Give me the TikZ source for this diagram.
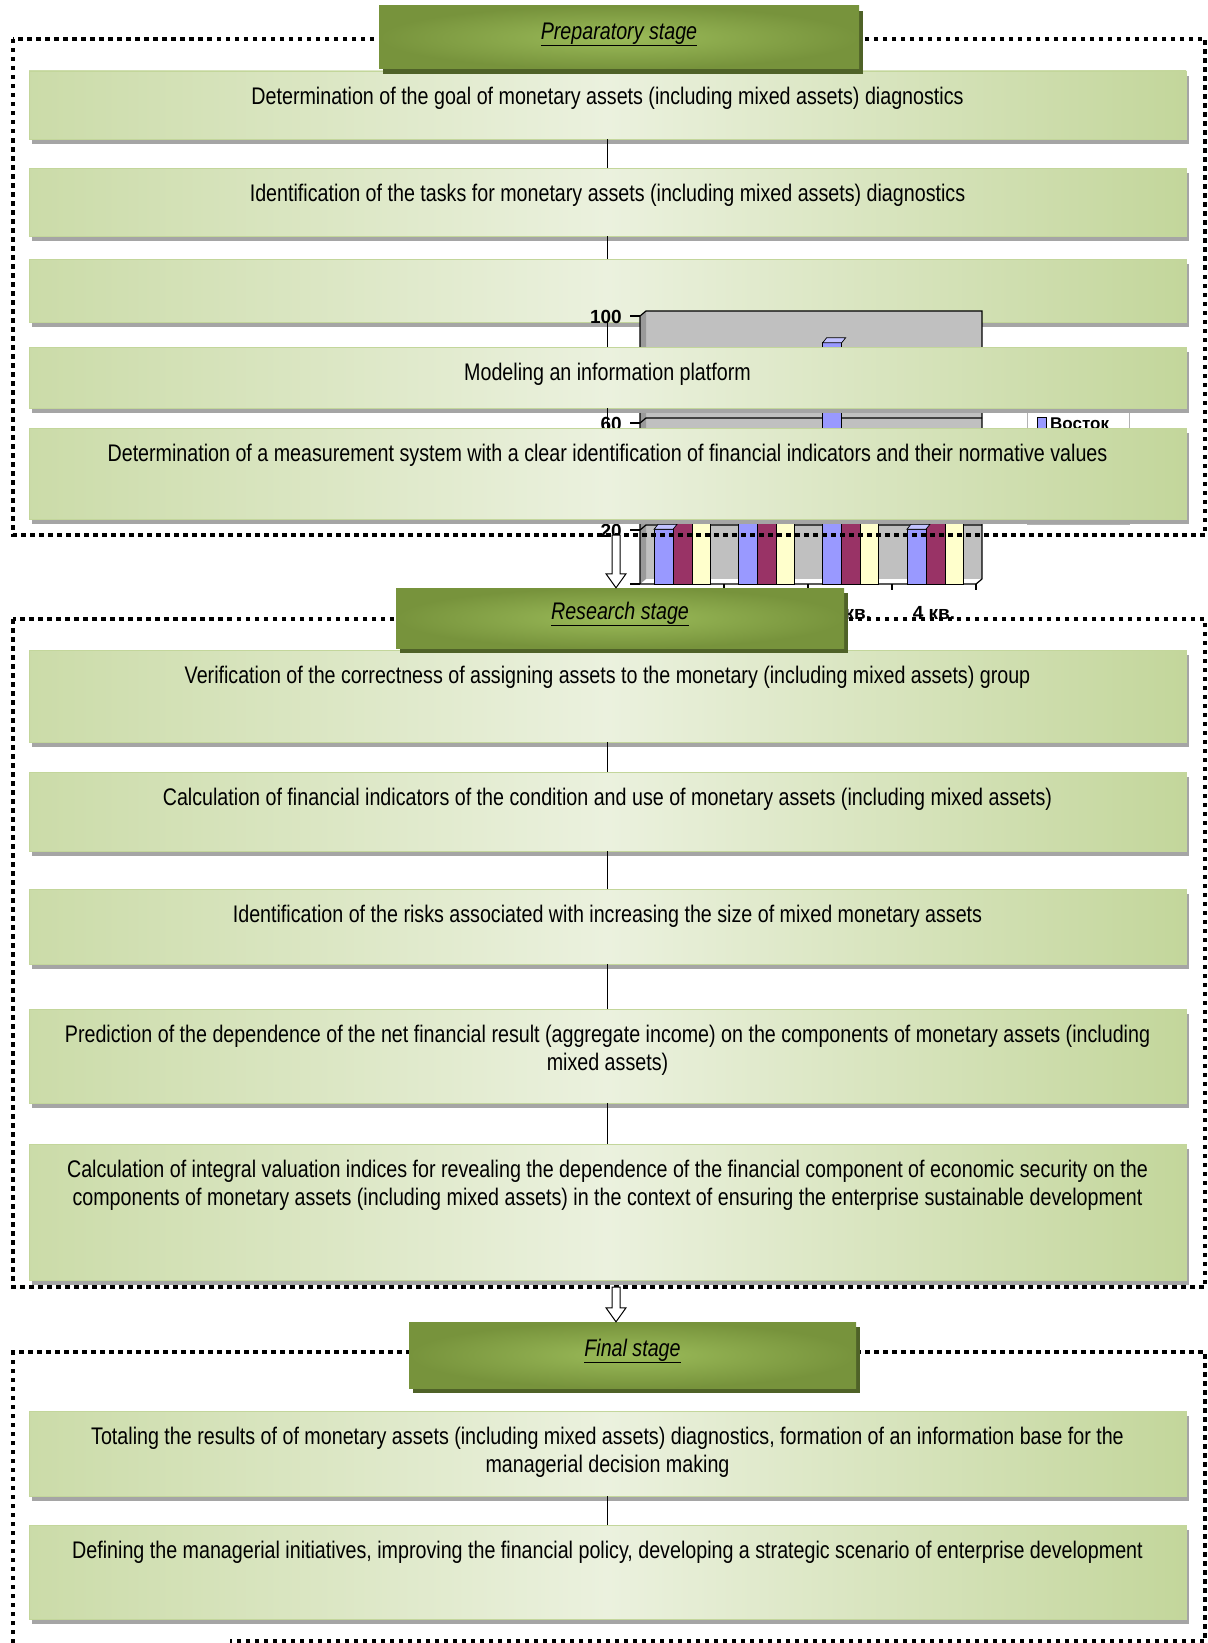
\documentclass[tikz,border=0pt]{standalone}
\usepackage{fontspec}
\setmainfont{Liberation Sans}[FakeStretch=0.82]
\newfontfamily\chartfont{Liberation Sans}
\usetikzlibrary{positioning,shadows,calc}

\definecolor{stagedark}{HTML}{77933C}
\definecolor{stagelight}{HTML}{9BBB59}
\definecolor{stageshadow}{HTML}{4F6228}
\definecolor{boxlight}{HTML}{EBF1DE}
\definecolor{boxgreen}{HTML}{C3D69B}
\definecolor{boxshadow}{HTML}{A5A5A5}
\definecolor{barblue}{HTML}{9999FF}
\definecolor{barred}{HTML}{993366}
\definecolor{baryellow}{HTML}{FFFFCC}
\definecolor{wallgray}{HTML}{C0C0C0}

\tikzset{
  stepbox/.style={rectangle, minimum width=1157pt, draw=boxgreen, line width=0.8pt,
    left color=boxgreen!80!boxlight, right color=boxgreen, middle color=boxlight,
    general shadow={fill=boxshadow, shadow xshift=3pt, shadow yshift=-5pt}},
  steptext/.style={inner sep=0pt, align=center, font=\fontsize{24}{28}\selectfont},
  stagebox/.style={rectangle, inner color=stagelight, outer color=stagedark,
    general shadow={fill=stageshadow, shadow xshift=4pt, shadow yshift=-5pt}},
  stagetext/.style={inner sep=0pt, font=\fontsize{24}{28}\selectfont\itshape},
  stageframe/.style={line width=4.5pt, dash pattern=on 4.5pt off 4.5pt},
  link/.style={line width=1.2pt},
  chartline/.style={line width=1.2pt},
  bar/.style={draw=black, line width=0.7pt},
  chartlabel/.style={inner sep=0pt, font=\chartfont\bfseries\fontsize{19}{22}\selectfont},
  hollowarrow/.style={draw=black, fill=white, line width=1pt, line join=miter,
    to path={let \p1=(\tikztostart), \p2=(\tikztotarget) in
      (\x1-4pt,\y1) -- (\x1-4pt,\y2+14pt) -- (\x1-10pt,\y2+14pt) -- (\x1,\y2)
      -- (\x1+10pt,\y2+14pt) -- (\x1+4pt,\y2+14pt) -- (\x1+4pt,\y1) -- cycle}}
}

\begin{document}
\begin{tikzpicture}[x=1pt, y=-1pt]
  \useasboundingbox (0,0) rectangle (1207,1643);
  \fill[white] (0,0) rectangle (1207,1643);

  % empty step, lies under the chart
  \node[stepbox, minimum height=63pt] (blank) at (607.5,290.5) {};

  % chart showing through behind the scheme
  \fill[wallgray] (646,311) rectangle (982,579);
  \fill[wallgray!80!black] (640,316) -- (646,311) -- (646,579) -- (640,584) -- cycle;
  \draw[chartline] (640,316) -- (646,311) -- (982,311) -- (982,579);
  \draw[chartline] (640,423) -- (646,418) -- (982,418);
  \draw[chartline] (640,530) -- (646,525) -- (982,525);
  \draw[chartline] (640,316) -- (640,584) -- (976,584) -- (982,579);
  \draw[chartline] (630,316) -- (640,316);
  \draw[chartline] (630,423) -- (640,423);
  \draw[chartline] (630,530) -- (640,530);
  \draw[chartline] (630,584) -- (640,584);
  \node[chartlabel, anchor=east] (y100) at (622,317) {100};
  \node[chartlabel, anchor=east] (y60) at (622,424) {60};
  \node[chartlabel, anchor=east] (y20) at (622,531) {20};

  % bars
  \draw[bar, fill=barblue] (654,584) rectangle (673,529.3);
  \draw[bar, fill=barred] (673,584) rectangle (692,502);
  \draw[bar, fill=baryellow] (692,584) rectangle (710,461);
  \draw[bar, fill=barblue] (738.3,584) rectangle (757.3,510.6);
  \draw[bar, fill=barred] (757.3,584) rectangle (776.3,480.6);
  \draw[bar, fill=baryellow] (776.3,584) rectangle (794.3,458.3);
  \draw[bar, fill=barblue] (822.6,584) rectangle (841.6,342.8);
  \draw[bar, fill=barred] (841.6,584) rectangle (860.6,491.3);
  \draw[bar, fill=baryellow] (860.6,584) rectangle (878.6,463.4);
  \draw[bar, fill=barblue] (906.9,584) rectangle (925.9,529.3);
  \draw[bar, fill=barred] (925.9,584) rectangle (944.9,499.3);
  \draw[bar, fill=baryellow] (944.9,584) rectangle (962.9,466.3);
  \draw[bar, fill=barblue!60!white] (654,529.3) -- (658,524.3) -- (677,524.3) -- (673,529.3) -- cycle;
  \draw[bar, fill=barblue!60!white] (822.6,342.8) -- (826.6,337.8) -- (845.6,337.8) -- (841.6,342.8) -- cycle;
  \draw[bar, fill=barblue!60!white] (906.9,529.3) -- (910.9,524.3) -- (929.9,524.3) -- (925.9,529.3) -- cycle;
  \draw[chartline] (724,584) -- (724,590);
  \draw[chartline] (808,584) -- (808,590);
  \draw[chartline] (892,584) -- (892,590);
  \draw[chartline] (976,584) -- (976,590);
  \node[chartlabel] (q3) at (850,613) {3 кв.};
  \node[chartlabel] (q4) at (934,613) {4 кв.};

  % legend
  \draw[gray!60, fill=white] (1027,406) rectangle (1129,524);
  \draw[bar, fill=barblue] (1037,417) rectangle (1046,430);
  \node[chartlabel, anchor=west, font=\chartfont\bfseries\fontsize{17}{20}\selectfont] (east) at (1050,424) {Восток};

  % preparatory stage
  \node[stepbox, minimum height=68pt] (goal) at (607.5,105) {};
  \node[steptext, below=16pt of goal.north] (goaltext) {Determination of the goal of monetary assets (including mixed assets) diagnostics};
  \node[stepbox, minimum height=68pt] (tasks) at (607.5,202) {};
  \node[steptext, below=16pt of tasks.north] (taskstext) {Identification of the tasks for monetary assets (including mixed assets) diagnostics};
  \node[stepbox, minimum height=61pt] (platform) at (607.5,377.5) {};
  \node[steptext, below=16pt of platform.north] (platformtext) {Modeling an information platform};
  \node[stepbox, minimum height=91pt] (measure) at (607.5,473.5) {};
  \node[steptext, below=16pt of measure.north] (measuretext) {Determination of a measurement system with a clear identification of financial indicators and their normative values};

  % research stage
  \node[stepbox, minimum height=92pt] (verify) at (607.5,696) {};
  \node[steptext, below=16pt of verify.north] (verifytext) {Verification of the correctness of assigning assets to the monetary (including mixed assets) group};
  \node[stepbox, minimum height=79pt] (calc) at (607.5,811.5) {};
  \node[steptext, below=16pt of calc.north] (calctext) {Calculation of financial indicators of the condition and use of monetary assets (including mixed assets)};
  \node[stepbox, minimum height=75pt] (risks) at (607.5,926.5) {};
  \node[steptext, below=16pt of risks.north] (riskstext) {Identification of the risks associated with increasing the size of mixed monetary assets};
  \node[stepbox, minimum height=94pt] (predict) at (607.5,1056) {};
  \node[steptext, below=16pt of predict.north] (predicttext) {Prediction of the dependence of the net financial result (aggregate income) on the components of monetary assets (including\\ mixed assets)};
  \node[stepbox, minimum height=136pt] (integral) at (607.5,1212) {};
  \node[steptext, below=16pt of integral.north] (integraltext) {Calculation of integral valuation indices for revealing the dependence of the financial component of economic security on the\\ components of monetary assets (including mixed assets) in the context of ensuring the enterprise sustainable development};

  % final stage
  \node[stepbox, minimum height=85pt] (totals) at (607.5,1453.5) {};
  \node[steptext, below=16pt of totals.north] (totalstext) {Totaling the results of of monetary assets (including mixed assets) diagnostics, formation of an information base for the\\ managerial decision making};
  \node[stepbox, minimum height=94pt] (initiatives) at (607.5,1572) {};
  \node[steptext, below=16pt of initiatives.north] (initiativestext) {Defining the managerial initiatives, improving the financial policy, developing a strategic scenario of enterprise development};

  % links inside the stages
  \draw[link] (goal) -- (tasks);
  \draw[link] (tasks) -- (blank);
  \draw[link] (blank) -- (platform);
  \draw[link] (platform) -- (measure);
  \draw[link] (verify) -- (calc);
  \draw[link] (calc) -- (risks);
  \draw[link] (risks) -- (predict);
  \draw[link] (predict) -- (integral);
  \draw[link] (totals) -- (initiatives);

  % dotted frames
  \draw[stageframe] (13,39) rectangle (1205,535);
  \draw[stageframe] (13,619) rectangle (1205,1287);
  \draw[stageframe] (13,1643) -- (13,1352) -- (1205,1352) -- (1205,1641) -- (230,1641);

  % stage headers
  \node[stagebox, minimum width=480pt, minimum height=63pt] (prep) at (619,37.5) {};
  \node[stagetext] (preptext) at ([yshift=3pt]prep.center) {\underline{Preparatory stage}};
  \node[stagebox, minimum width=448pt, minimum height=60pt] (research) at (620,618) {};
  \node[stagetext] (researchtext) at ([yshift=4pt]research.center) {\underline{Research stage}};
  \node[stagebox, minimum width=447pt, minimum height=66pt] (final) at (632.5,1355) {};
  \node[stagetext] (finaltext) at ([yshift=4pt]final.center) {\underline{Final stage}};

  % arrows between the stages
  \coordinate (prepout) at (616,535);
  \coordinate (researchout) at (616,1287);
  \draw[hollowarrow] (prepout) to (prepout |- research.north);
  \draw[hollowarrow] (researchout) to (researchout |- final.north);
\end{tikzpicture}
\end{document}
